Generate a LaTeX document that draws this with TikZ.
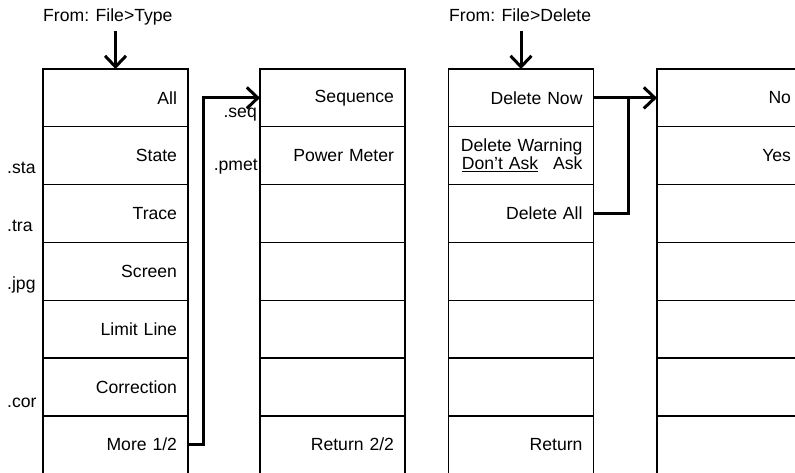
\documentclass[tikz,border=0pt]{standalone}
\usepackage{fontspec}
\setmainfont{Liberation Sans}
\usetikzlibrary{arrows.meta, positioning, calc}

\begin{document}
\begin{tikzpicture}[x=1pt, y=-1pt,
  every node/.style={font=\fontsize{17.6}{18}\selectfont},
  cell/.style={draw, line width=1.4pt, minimum height=57.8pt, text width=123pt,
    inner xsep=11pt, inner ysep=0pt, outer sep=0pt, align=right},
  sfx/.style={inner sep=0pt, anchor=base west},
  link/.style={line width=3pt},
  tip/.style={-{Straight Barb[length=11pt, width=21pt]}}]
  \clip (0,0) rectangle (795,473);
  % --- File>Type menu -----------------------------------------------
  \node[cell] (all) at (115.5, 97.9) {All};
  \node[cell, below=0pt of all]    (state)  {State};
  \node[cell, below=0pt of state]  (trace)  {Trace};
  \node[cell, below=0pt of trace]  (screen) {Screen};
  \node[cell, below=0pt of screen] (limit)  {Limit Line};
  \node[cell, below=0pt of limit]  (corr)   {Correction};
  \node[cell, below=0pt of corr]   (more)   {More 1/2};
  % file extensions
  \node[sfx] (sta) at (7, 174) {.sta};
  \node[sfx] (tra) at (7, 232) {.tra};
  \node[sfx] (jpg) at (7, 289) {.jpg};
  \node[sfx] (cor) at (7, 407) {.cor};
  % --- File>Type page 2 ---------------------------------------------
  \node[cell] (seq) at (332.5, 97.9) {Sequence};
  \node[cell, below=0pt of seq]  (pmet)  {Power Meter};
  \node[cell, below=0pt of pmet] (ty3)   {};
  \node[cell, below=0pt of ty3]  (ty4)   {};
  \node[cell, below=0pt of ty4]  (ty5)   {};
  \node[cell, below=0pt of ty5]  (ty6)   {};
  \node[cell, below=0pt of ty6]  (ret22) {Return 2/2};
  \node[sfx, anchor=base east] (seqext)  at (257, 118) {.seq};
  \node[sfx, anchor=base east] (pmetext) at (258, 171) {.pmet};
  % --- File>Delete menu ---------------------------------------------
  \node[cell] (delnow) at (521, 97.9) {Delete Now};
  \node[cell, below=0pt of delnow]  (delwarn) {Delete Warning\\\underline{Don't Ask}\hspace{15pt}Ask};
  \node[cell, below=0pt of delwarn] (delall)  {Delete All};
  \node[cell, below=0pt of delall]  (del4)    {};
  \node[cell, below=0pt of del4]    (del5)    {};
  \node[cell, below=0pt of del5]    (del6)    {};
  \node[cell, below=0pt of del6]    (ret)     {Return};
  % --- confirm menu -------------------------------------------------
  \node[cell] (no) at (729.5, 97.9) {No};
  \node[cell, below=0pt of no]   (yes)   {Yes};
  \node[cell, below=0pt of yes]  (conf3) {};
  \node[cell, below=0pt of conf3] (conf4) {};
  \node[cell, below=0pt of conf4] (conf5) {};
  \node[cell, below=0pt of conf5] (conf6) {};
  \node[cell, below=0pt of conf6] (conf7) {};
  % --- entry labels -------------------------------------------------
  \node[sfx] (fromtype)   at (43, 22)  {From: File>Type};
  \node[sfx] (fromdelete) at (449, 22) {From: File>Delete};
  \coordinate (typein) at (115.5, 31);
  \coordinate (delin)  at (521, 31);
  \draw[link, tip] (typein) -- (all.north);
  \draw[link, tip] (delin) -- (delnow.north);
  % --- links --------------------------------------------------------
  \draw[link, tip] (more.east) -- ++(15, 0) |- (seq.west);
  \coordinate (jn) at ($(delnow.east)!0.55!(no.west)$);
  \draw[link, tip] (delnow.east) -- (no.west);
  \draw[link] (delall.east) -| (jn);
\end{tikzpicture}
\end{document}
